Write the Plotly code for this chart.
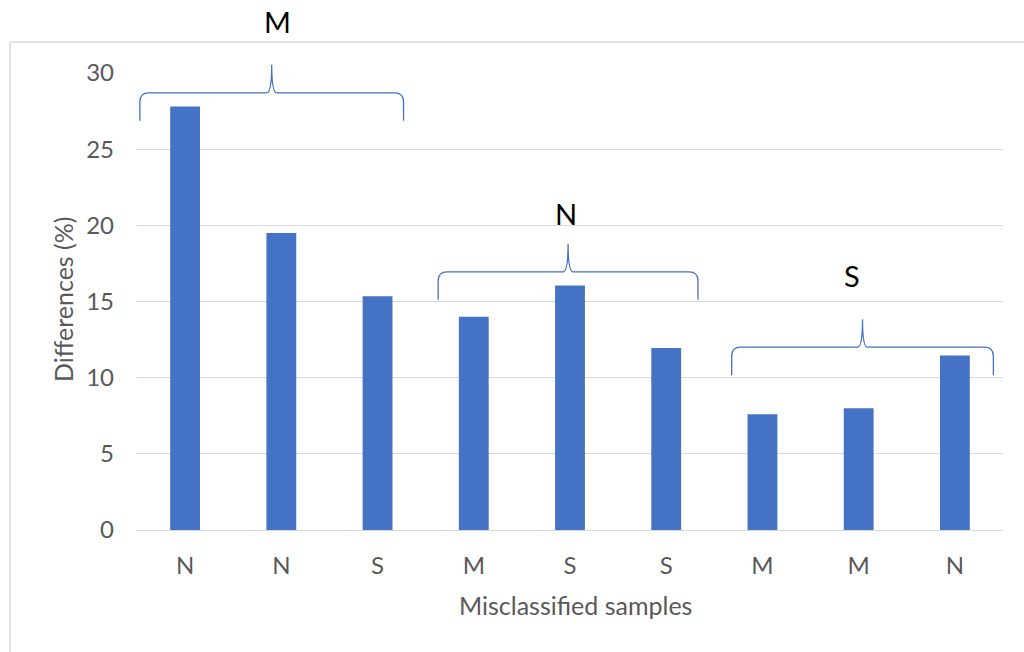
import plotly.graph_objects as go

# ---- data ----
tick_labels = ["N", "N", "S", "M", "S", "S", "M", "M", "N"]
values = [27.8, 19.5, 15.35, 14.0, 16.05, 11.95, 7.6, 8.0, 11.45]
positions = list(range(len(values)))

group_labels = ["M", "N", "S"]
group_x0 = [-0.47, 2.63, 5.68]      # brace start (category units)
group_x1 = [2.27, 5.33, 8.40]       # brace end (category units)
group_y = [28.7, 16.95, 12.0]       # brace horizontal level (value units)
label_x = [0.965, 3.958, 6.931]     # group label centre (category units)
label_y = [33.4, 20.8, 16.7]        # group label level (value units)

Y_MAX = 30
X_MIN, X_MAX = -0.5, len(values) - 0.5

W, H = 1024, 652
ML, MR, MT, MB = 137, 21, 73, 122
PW, PH = W - ML - MR, H - MT - MB

BLUE = "#4472C4"
GRID = "#D9D9D9"
TXT = "#595959"
FONT = "Lato"

fig = go.Figure()
fig.add_trace(go.Bar(x=positions, y=values, marker_color=BLUE, marker_line_width=0,
                     width=0.31, hoverinfo="skip"))

def px_x(xd):
    return (xd - X_MIN) / (X_MAX - X_MIN)

def px_y(yd):
    return yd / Y_MAX

shapes = []
depth = 28  # px
rad = 9     # px
for x0d, x1d, yd in zip(group_x0, group_x1, group_y):
    x0, x1 = px_x(x0d), px_x(x1d)
    xm = (x0 + x1) / 2
    yh = px_y(yd)
    dy = depth / PH
    ry = rad / PH
    rx = rad / PW
    tx = 5 / PW
    p = (f"M {x0},{yh-dy} L {x0},{yh-ry} Q {x0},{yh} {x0+rx},{yh} "
         f"L {xm-tx},{yh} Q {xm},{yh} {xm},{yh+dy} "
         f"Q {xm},{yh} {xm+tx},{yh} L {x1-rx},{yh} "
         f"Q {x1},{yh} {x1},{yh-ry} L {x1},{yh-dy}")
    shapes.append(dict(type="path", path=p, xref="paper", yref="paper",
                       line=dict(color=BLUE, width=1.3)))

# outer chart-area border (top and left)
bx = (10 - ML) / PW
by_top = (H - MB - 42) / PH
by_bot = (H - MB - H - 5) / PH
shapes.append(dict(type="line", xref="paper", yref="paper", x0=bx, x1=(W + 5 - ML) / PW,
                   y0=by_top, y1=by_top, line=dict(color=GRID, width=1.5)))
shapes.append(dict(type="line", xref="paper", yref="paper", x0=bx, x1=bx,
                   y0=by_bot, y1=by_top, line=dict(color=GRID, width=1.5)))

annotations = []
for lab, lx, ly in zip(group_labels, label_x, label_y):
    annotations.append(dict(x=px_x(lx), y=px_y(ly), xref="paper", yref="paper",
                            text=lab, showarrow=False, font=dict(family=FONT, size=29, color="black"),
                            xanchor="center", yanchor="middle"))

annotations.append(dict(x=(575 - ML) / PW, y=(H - MB - 605) / PH, xref="paper", yref="paper",
                        text="Misclassified samples", showarrow=False,
                        font=dict(family=FONT, size=25, color=TXT), xanchor="center", yanchor="middle"))
annotations.append(dict(x=(63 - ML) / PW, y=(H - MB - 300) / PH, xref="paper", yref="paper",
                        text="Differences (%)", showarrow=False, textangle=-90,
                        font=dict(family=FONT, size=25, color=TXT), xanchor="center", yanchor="middle"))

fig.update_layout(
    width=W, height=H,
    margin=dict(l=ML, r=MR, t=MT, b=MB, autoexpand=False),
    paper_bgcolor="white", plot_bgcolor="white",
    showlegend=False,
    shapes=shapes, annotations=annotations,
    xaxis=dict(range=[X_MIN, X_MAX], tickmode="array", tickvals=positions, ticktext=tick_labels,
               showgrid=False, zeroline=False, showline=True, linecolor=GRID, linewidth=1,
               ticks="", tickfont=dict(family=FONT, size=24, color=TXT), ticklabelstandoff=14,
               fixedrange=True),
    yaxis=dict(range=[0, Y_MAX], tickmode="array", tickvals=[0, 5, 10, 15, 20, 25, 30],
               showgrid=True, gridcolor=GRID, gridwidth=1, zeroline=False, showline=False,
               ticks="", tickfont=dict(family=FONT, size=24, color=TXT), ticklabelstandoff=22,
               fixedrange=True),
)

fig.write_html("out.html")
